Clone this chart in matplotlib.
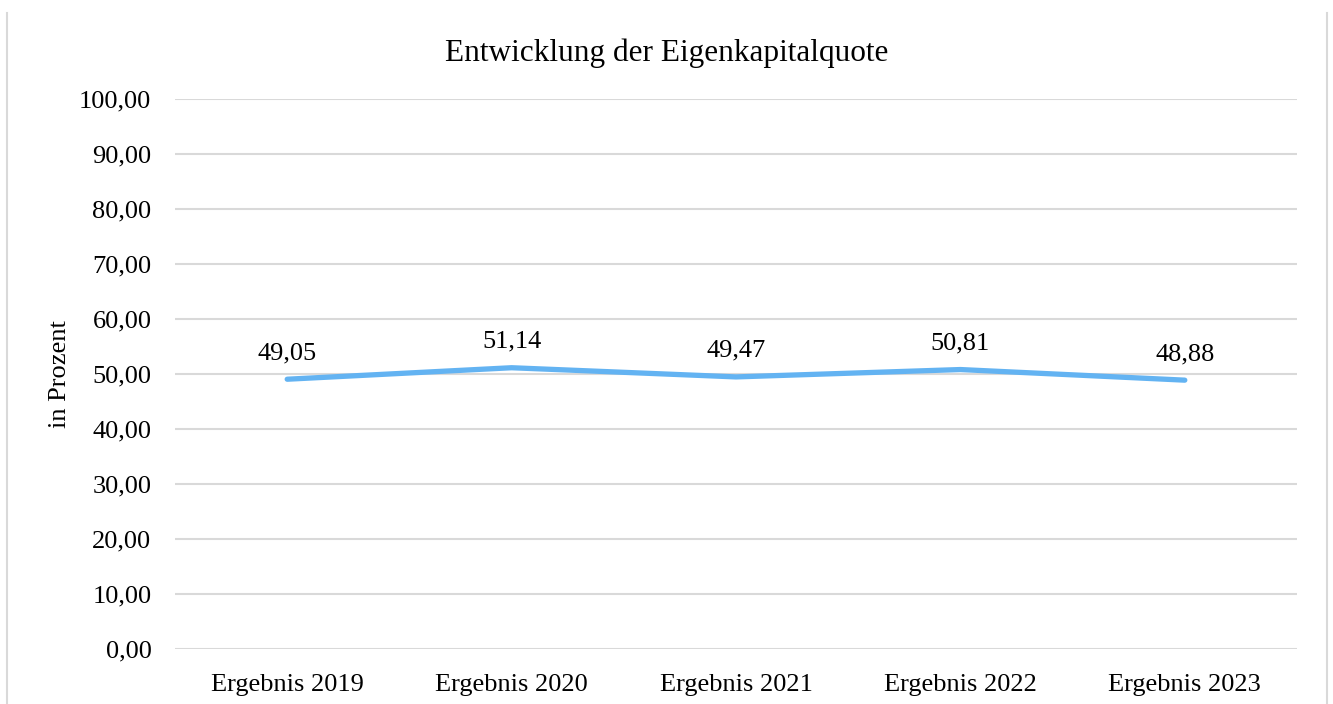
import matplotlib
matplotlib.use("Agg")
import matplotlib.pyplot as plt
from matplotlib.lines import Line2D

categories = ["Ergebnis 2019", "Ergebnis 2020", "Ergebnis 2021", "Ergebnis 2022", "Ergebnis 2023"]
values = [49.05, 51.14, 49.47, 50.81, 48.88]
yticks = [0, 10, 20, 30, 40, 50, 60, 70, 80, 90, 100]

plt.rcParams['font.family'] = ['Liberation Serif', 'DejaVu Serif']

W, H = 1333, 704
fig = plt.figure(figsize=(W/100, H/100), dpi=100)
ax = fig.add_axes([175/W, 1-649/H, (1297-175)/W, (649-99)/H])

x = list(range(len(categories)))
ax.plot(x, values, color='#63b3f2', lw=3.8, solid_capstyle='round', solid_joinstyle='round', zorder=3)
for xi, v in zip(x, values):
    ax.annotate(f"{v:.2f}".replace('.', ','), (xi, v), xytext=(0, 14.5), textcoords='offset points',
                ha='center', va='baseline', fontsize=19, color='#000000')

ax.set_xlim(-0.5, len(categories)-0.5)
ax.set_ylim(0, 100)
ax.set_yticks(yticks)
ax.set_yticklabels([f"{t:.2f}".replace('.', ',') for t in yticks], fontsize=19)
ax.set_xticks(x)
ax.set_xticklabels(categories, fontsize=19)
ax.grid(axis='y', color='#d9d9d9', lw=1.5)
ax.set_axisbelow(True)
for s in ax.spines.values():
    s.set_visible(False)
ax.tick_params(axis='y', length=0, pad=17)
ax.tick_params(axis='x', length=0, pad=18)
ax.set_ylabel("in Prozent", fontsize=19, labelpad=6)
ax.text(0.5, 1-61/H, "Entwicklung der Eigenkapitalquote", transform=fig.transFigure,
        ha='center', va='baseline', fontsize=22.5)

fig.add_artist(Line2D([7.5/W, 7.5/W], [0, 1-13/H], color='#d9d9d9', lw=1.5, transform=fig.transFigure))
fig.add_artist(Line2D([1326.5/W, 1326.5/W], [0, 1-13/H], color='#d9d9d9', lw=1.5, transform=fig.transFigure))

fig.savefig("out.png", dpi=100)
